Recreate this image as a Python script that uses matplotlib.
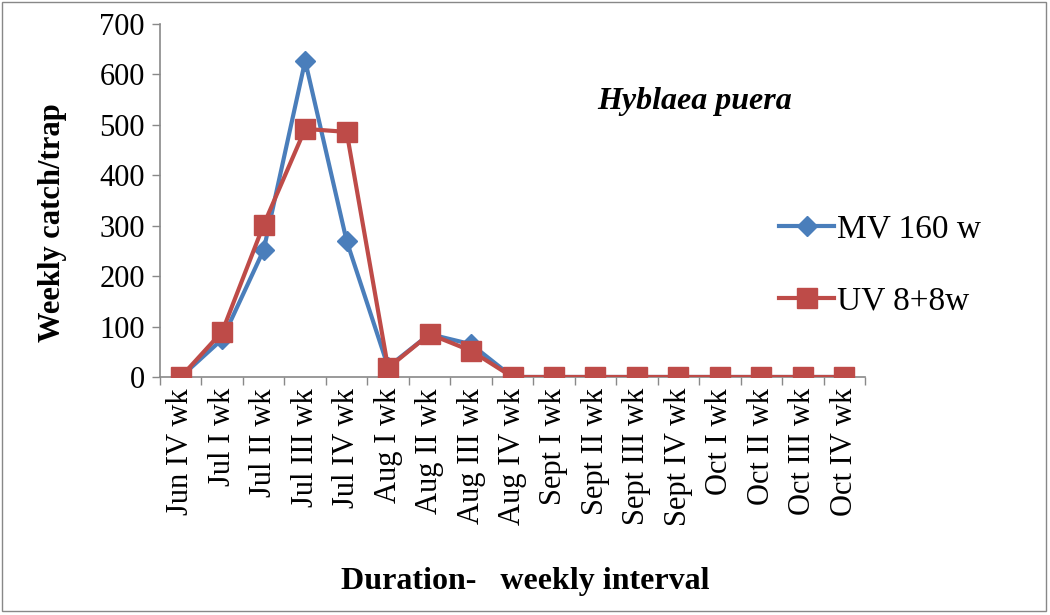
import matplotlib
matplotlib.use("Agg")
import matplotlib.pyplot as plt
from matplotlib.patches import Rectangle

categories = ["Jun IV wk", "Jul I wk", "Jul II wk", "Jul III wk", "Jul IV wk",
              "Aug I wk", "Aug II wk", "Aug III wk", "Aug IV wk", "Sept I wk",
              "Sept II wk", "Sept III wk", "Sept IV wk", "Oct I wk", "Oct II wk",
              "Oct III wk", "Oct IV wk"]
mv_160 = [0, 75, 252, 627, 270, 20, 85, 65, 0, 0, 0, 0, 0, 0, 0, 0, 0]
uv_8_8 = [0, 90, 302, 492, 486, 18, 85, 52, 0, 0, 0, 0, 0, 0, 0, 0, 0]
yticks = [0, 100, 200, 300, 400, 500, 600, 700]

plt.rcParams['font.family'] = ['Liberation Serif', 'DejaVu Serif']

fig = plt.figure(figsize=(10.5, 6.15), dpi=100)
ax = fig.add_axes([0.1524, 0.387, 0.6714, 0.574])

x = list(range(len(categories)))
ax.plot(x, mv_160, color='#4a7ebb', lw=3.0, marker='D', ms=10, label='MV 160 w', zorder=3)
ax.plot(x, uv_8_8, color='#be4b48', lw=3.0, marker='s', ms=15, label='UV 8+8w', zorder=4)

ax.set_xlim(-0.5, len(categories) - 0.5)
ax.set_ylim(0, 700)
ax.set_yticks(yticks)
ax.set_yticklabels([str(v) for v in yticks], fontsize=22)
ax.set_xticks(x)
ax.set_xticklabels(categories, rotation=90, fontsize=22)
ax.tick_params(axis='x', length=0, pad=8)
ax.set_xticks([i - 0.5 for i in range(len(categories) + 1)], minor=True)
ax.tick_params(axis='x', which='minor', length=6, color='#898989', width=1)
ax.tick_params(axis='y', length=6, color='#898989', width=1, pad=5)
for s in ['top', 'right']:
    ax.spines[s].set_visible(False)
for s in ['left', 'bottom']:
    ax.spines[s].set_color('#898989')
    ax.spines[s].set_linewidth(1.2)

fig.text(0.05, 0.638, 'Weekly catch/trap', fontsize=22, fontweight='bold',
         rotation=90, ha='center', va='center')
fig.text(0.5, 0.054, 'Duration-   weekly interval', fontsize=23, fontweight='bold', ha='center', va='center')
fig.text(0.662, 0.835, 'Hyblaea puera', fontsize=23, fontweight='bold', style='italic', ha='center', va='center')

leg = fig.legend(loc='upper left', bbox_to_anchor=(0.742, 0.652), frameon=False,
                 fontsize=24, labelspacing=1.25, handlelength=1.65, handletextpad=0.1,
                 borderaxespad=0, borderpad=0)

fig.patches.append(Rectangle((0.002, 0.006), 0.994, 0.99, transform=fig.transFigure,
                             fill=False, edgecolor='#888888', lw=1.0))

fig.savefig('out.png', dpi=100)
